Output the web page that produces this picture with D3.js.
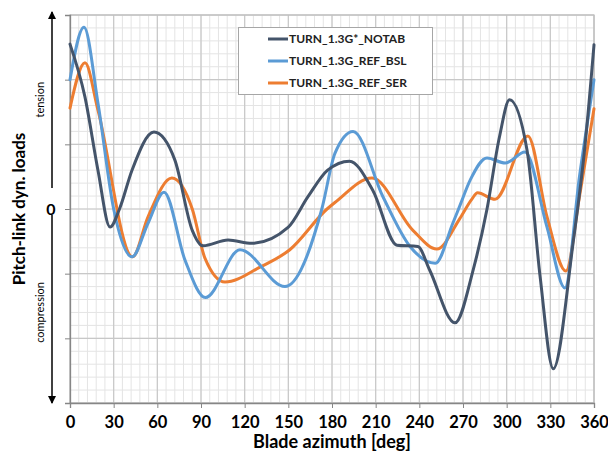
<!DOCTYPE html>
<html>
<head>
<meta charset="utf-8">
<script src="https://cdn.jsdelivr.net/npm/d3@7"></script>
<style>
  body { margin: 0; background: #fff; }
  svg { display: block; font-family: Lato, "Open Sans", sans-serif; }
</style>
</head>
<body>
<script>
            var width = 608, height = 459;
            var margin = { top: 15, right: 14, bottom: 56, left: 70 };

            // series: [azimuth deg, load]
            const notabAz  = [0, 10.3, 19.2, 27.5, 34, 42.6, 57.7, 72, 84, 91.4, 108.6, 125, 150, 163.5, 177, 192, 208, 224.6, 239, 247, 264.5, 277, 286.5, 295, 302, 314, 323, 332, 345.6, 354, 360];
            const notabVal = [2.55, 1.73, 0.6, -0.28, 0, 0.6, 1.19, 0.76, -0.33, -0.57, -0.48, -0.53, -0.28, 0.19, 0.6, 0.74, 0.29, -0.56, -0.58, -0.94, -1.76, -0.94, 0, 1.11, 1.69, 0.91, -1.05, -2.47, -0.53, 1.02, 2.54];

            const bslAz  = [0, 9.6, 19.2, 30, 42.6, 53.6, 64.6, 79, 93, 116.8, 147.7, 173, 182, 194.5, 215, 233.6, 251, 263, 268, 275, 286.5, 299, 312.6, 327.7, 340, 350, 360];
            const bslVal = [2.0, 2.81, 1.64, 0, -0.74, -0.22, 0.26, -0.79, -1.37, -0.63, -1.2, 0, 0.86, 1.2, 0.19, -0.58, -0.84, -0.22, 0.06, 0.45, 0.79, 0.71, 0.88, -0.28, -1.22, 0.5, 2.0];

            const serAz  = [0, 10.3, 19.2, 43, 53.6, 70, 84, 92.7, 106.5, 130.5, 151, 176.6, 182, 207.5, 235.6, 252, 268, 276, 280, 292, 314.6, 327.7, 340.7, 350, 360];
            const serVal = [1.56, 2.26, 1.53, -0.74, -0.12, 0.48, 0, -0.76, -1.13, -0.9, -0.63, 0, 0.1, 0.48, -0.33, -0.62, -0.14, 0.15, 0.25, 0.15, 1.13, -0.12, -0.96, 0.19, 1.55];

            const seriesNames  = ["TURN_1.3G*_NOTAB", "TURN_1.3G_REF_BSL", "TURN_1.3G_REF_SER"];
            const seriesColors = ["#44546a", "#5b9bd5", "#ed7d31"];
            const xTicks = [0, 30, 60, 90, 120, 150, 180, 210, 240, 270, 300, 330, 360];

            var svg = d3.select('body').append('svg')
                .attr('width', width)
                .attr('height', height);

            var x = d3.scaleLinear().domain([0, 360]).range([margin.left, width - margin.right]);
            var y = d3.scaleLinear().domain([-3, 3]).range([height - margin.bottom, margin.top]);

            // grid: minor first, then major on top
            const gGrid = svg.append('g');
            gGrid.selectAll('line.vminor')
                .data(d3.range(0, 361, 6))
                .join('line')
                .attr('x1', d => x(d)).attr('x2', d => x(d))
                .attr('y1', y(-3)).attr('y2', y(3))
                .attr('stroke', '#e4e4e4').attr('stroke-width', 1);
            gGrid.selectAll('line.hminor')
                .data(d3.range(-3, 3.01, 0.2))
                .join('line')
                .attr('class', 'hminor')
                .attr('x1', x(0)).attr('x2', x(360))
                .attr('y1', d => y(d)).attr('y2', d => y(d))
                .attr('stroke', '#e4e4e4').attr('stroke-width', 1);
            gGrid.selectAll('line.vmajor')
                .data(xTicks)
                .join('line')
                .attr('class', 'vmajor')
                .attr('x1', d => x(d)).attr('x2', d => x(d))
                .attr('y1', y(-3)).attr('y2', y(3))
                .attr('stroke', '#c8c8c8').attr('stroke-width', 1.2);
            gGrid.selectAll('line.hmajor')
                .data(d3.range(-3, 4, 1))
                .join('line')
                .attr('class', 'hmajor')
                .attr('x1', x(0)).attr('x2', x(360))
                .attr('y1', d => y(d)).attr('y2', d => y(d))
                .attr('stroke', '#c8c8c8').attr('stroke-width', 1.2);

            // frame
            svg.append('rect')
                .attr('x', x(0)).attr('y', y(3))
                .attr('width', x(360) - x(0)).attr('height', y(-3) - y(3))
                .attr('fill', 'none').attr('stroke', '#bfbfbf').attr('stroke-width', 1.2);

            // axes
            var xAxis = svg.append('g')
                .attr('transform', 'translate(0,' + y(-3) + ')')
                .call(d3.axisBottom(x).tickValues(xTicks).tickSize(5).tickPadding(8));
            xAxis.select('.domain').attr('stroke', '#868686').attr('stroke-width', 1.3);
            xAxis.selectAll('.tick line').attr('stroke', '#868686');
            xAxis.selectAll('.tick text')
                .attr('font-family', 'Lato, sans-serif')
                .attr('font-weight', 'bold').attr('font-size', 16.5).attr('fill', '#000');

            var yAxis = svg.append('g')
                .attr('transform', 'translate(' + x(0) + ',0)')
                .call(d3.axisLeft(y).tickValues(d3.range(-3, 4, 1)).tickSize(5).tickFormat(''));
            yAxis.select('.domain').attr('stroke', '#868686').attr('stroke-width', 1.3);
            yAxis.selectAll('.tick line').attr('stroke', '#868686');

            svg.append('text')
                .attr('x', (x(0) + x(360)) / 2).attr('y', 448)
                .attr('text-anchor', 'middle')
                .attr('font-weight', 'bold').attr('font-size', 18)
                .text('Blade azimuth [deg]');

            // left annotation: arrows, zero, tension / compression
            const defs = svg.append('defs');
            defs.append('marker')
                .attr('id', 'arrow')
                .attr('markerWidth', 8).attr('markerHeight', 8)
                .attr('refX', 7).attr('refY', 4)
                .attr('orient', 'auto')
                .attr('markerUnits', 'userSpaceOnUse')
                .append('polygon')
                .attr('points', '0 0, 8 4, 0 8')
                .attr('fill', '#000');

            svg.append('line')
                .attr('x1', 52).attr('x2', 52)
                .attr('y1', y(0) - 21).attr('y2', 12)
                .attr('stroke', '#000').attr('stroke-width', 1.5)
                .attr('marker-end', 'url(#arrow)');
            svg.append('line')
                .attr('x1', 52).attr('x2', 52)
                .attr('y1', y(0) + 6).attr('y2', 403)
                .attr('stroke', '#000').attr('stroke-width', 1.5)
                .attr('marker-end', 'url(#arrow)');

            svg.append('text')
                .attr('x', 51).attr('y', y(0) + 6)
                .attr('text-anchor', 'middle')
                .attr('font-weight', 'bold').attr('font-size', 16)
                .text('0');

            svg.append('text')
                .attr('transform', 'translate(44,' + y(1.69) + ') rotate(-90)')
                .attr('text-anchor', 'middle').attr('font-size', 11)
                .text('tension');
            svg.append('text')
                .attr('transform', 'translate(44,' + y(-1.6) + ') rotate(-90)')
                .attr('text-anchor', 'middle').attr('font-size', 11)
                .text('compression');
            svg.append('text')
                .attr('transform', 'translate(25,' + y(0) + ') rotate(-90)')
                .attr('text-anchor', 'middle')
                .attr('font-weight', 'bold').attr('font-size', 17)
                .text('Pitch-link dyn. loads');

            // curves
            const line = d3.line()
                .x(d => x(d[0]))
                .y(d => y(d[1]))
                .curve(d3.curveMonotoneX);

            const seriesData = [
                d3.zip(notabAz, notabVal),
                d3.zip(bslAz, bslVal),
                d3.zip(serAz, serVal)
            ];

            // orange at the bottom, dark on top
            const drawOrder = [2, 1, 0];
            drawOrder.forEach(function(i) {
                svg.append('path')
                    .datum(seriesData[i])
                    .attr('d', line)
                    .attr('fill', 'none')
                    .attr('stroke', seriesColors[i])
                    .attr('stroke-width', 3)
                    .attr('stroke-linejoin', 'round')
                    .attr('stroke-linecap', 'round');
            });

            // legend
            const gLegend = svg.append('g');
            gLegend.append('rect')
                .attr('x', 238.5).attr('y', 27.5)
                .attr('width', 194).attr('height', 67)
                .attr('fill', '#fff').attr('stroke', '#a6a6a6').attr('stroke-width', 1);
            seriesNames.forEach(function(name, i) {
                var ly = 39 + i * 22;
                gLegend.append('line')
                    .attr('x1', 268).attr('x2', 288)
                    .attr('y1', ly).attr('y2', ly)
                    .attr('stroke', seriesColors[i]).attr('stroke-width', 3);
                gLegend.append('text')
                    .attr('x', 289).attr('y', ly + 4)
                    .attr('font-weight', 'bold').attr('font-size', 12)
                    .attr('fill', '#222')
                    .text(name);
            });
</script>
</body>
</html>
